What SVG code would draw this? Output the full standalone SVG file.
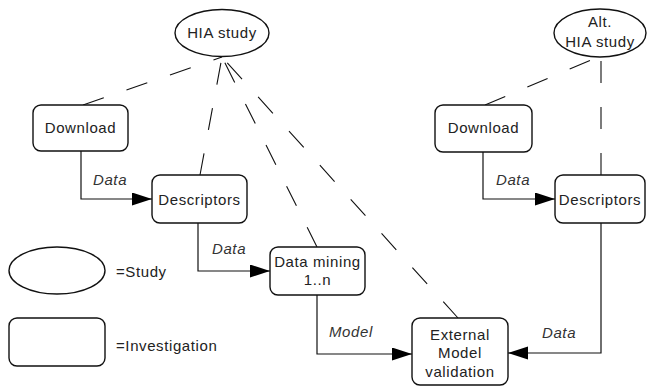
<svg xmlns="http://www.w3.org/2000/svg" width="647" height="387" viewBox="0 0 647 387">
<style>
.box{fill:#fff;stroke:#111;stroke-width:1.4}
.t{font-family:"Liberation Sans",Arial,sans-serif;font-size:15px;letter-spacing:0.6px;fill:#222}
.c{text-anchor:middle}
.lbl{font-family:"Liberation Sans",Arial,sans-serif;font-size:15px;font-style:italic;letter-spacing:0.6px;fill:#333}
.flow{fill:none;stroke:#111;stroke-width:1.2}
.dash{fill:none;stroke:#111;stroke-width:1.1;stroke-dasharray:22 24}
</style>
<defs>
<marker id="ah" markerUnits="userSpaceOnUse" markerWidth="21" markerHeight="14" refX="20" refY="6.5" orient="auto">
<path d="M0,0 L20,6.5 L0,13 z" fill="#000"/>
</marker>
</defs>
<rect width="647" height="387" fill="#fff"/>
<g id="connectors">
<path class="dash" d="M83,105 L222,57"/>
<path class="dash" d="M200,175 L222,57"/>
<path class="dash" d="M317,247 L222,57"/>
<path class="dash" d="M458,318 L222,57"/>
<path class="dash" d="M485,105 L598,57"/>
<path class="dash" d="M601,175 L601,57"/>
<path class="flow" d="M81,151 V199 H152" marker-end="url(#ah)"/>
<path class="flow" d="M198,223 V271 H270" marker-end="url(#ah)"/>
<path class="flow" d="M317,295 V354 H412" marker-end="url(#ah)"/>
<path class="flow" d="M601,223 V353 H508" marker-end="url(#ah)"/>
<path class="flow" d="M483,152 V199 H555" marker-end="url(#ah)"/>
<text class="lbl" x="93" y="185">Data</text>
<text class="lbl" x="212" y="254">Data</text>
<text class="lbl" x="329" y="337">Model</text>
<text class="lbl" x="542" y="338">Data</text>
<text class="lbl" x="496" y="185">Data</text>
</g>
<g id="hia-study">
<ellipse class="box" cx="222" cy="33" rx="47" ry="23.5"/>
<text class="t c" x="222" y="38">HIA study</text>
</g>
<g id="download">
<rect class="box" x="33" y="105" width="95" height="46" rx="8"/>
<text class="t c" x="80.5" y="133">Download</text>
</g>
<g id="descriptors">
<rect class="box" x="152" y="175" width="95" height="48" rx="8"/>
<text class="t c" x="199.5" y="205">Descriptors</text>
</g>
<g id="data-mining">
<rect class="box" x="270" y="247" width="95" height="48" rx="8"/>
<text class="t c" x="317.5" y="267">Data mining</text>
<text class="t c" x="317.5" y="285">1..n</text>
</g>
<g id="external-validation">
<rect class="box" x="412" y="318" width="96" height="67" rx="8"/>
<text class="t c" x="460" y="340">External</text>
<text class="t c" x="460" y="358">Model</text>
<text class="t c" x="460" y="377">validation</text>
</g>
<g id="alt-hia-study">
<ellipse class="box" cx="600" cy="33" rx="46" ry="24"/>
<text class="t c" x="600" y="27">Alt.</text>
<text class="t c" x="600" y="47">HIA study</text>
</g>
<g id="alt-download">
<rect class="box" x="435" y="105" width="97" height="47" rx="8"/>
<text class="t c" x="483.5" y="133">Download</text>
</g>
<g id="alt-descriptors">
<rect class="box" x="555" y="175" width="90" height="48" rx="8"/>
<text class="t c" x="600" y="205">Descriptors</text>
</g>
<g id="legend-study">
<ellipse class="box" cx="57" cy="270.5" rx="48" ry="23.5"/>
<text class="t" x="116" y="277">=Study</text>
</g>
<g id="legend-investigation">
<rect class="box" x="9" y="318" width="96" height="48" rx="8"/>
<text class="t" x="116" y="351">=Investigation</text>
</g>
</svg>
